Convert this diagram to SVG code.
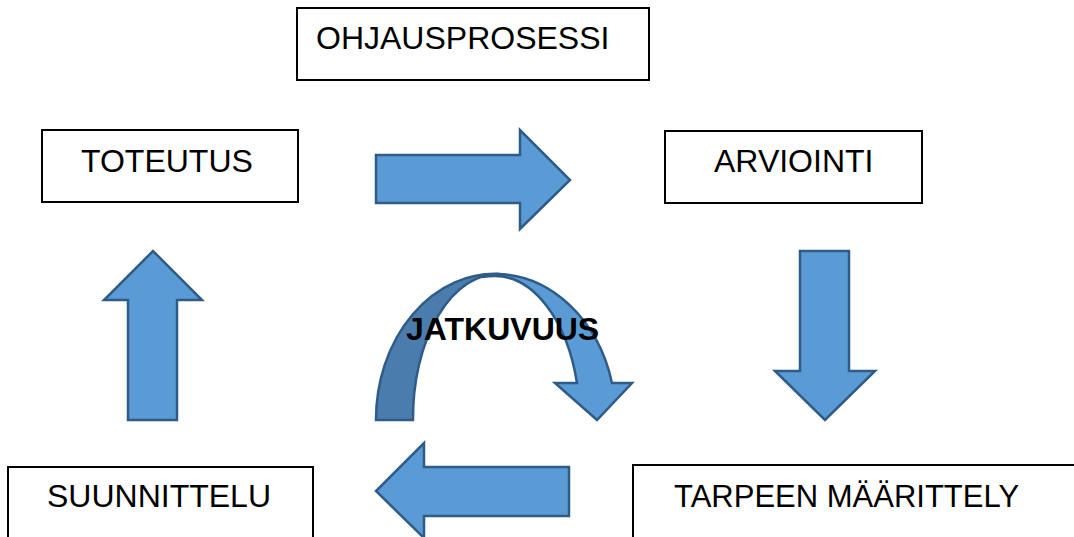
<svg xmlns="http://www.w3.org/2000/svg" width="1074" height="537" viewBox="0 0 1074 537">
<style>
.box{fill:#fff;stroke:#000;stroke-width:2}
.lbl{font-family:"Liberation Sans",Arial,sans-serif;font-size:32px;fill:#000}
.arr{fill:#5B9BD5;stroke:#2E5B88;stroke-width:2.5;stroke-linejoin:miter}
.dark{fill:#4A7DAE;stroke:#2E5B88;stroke-width:2.5}
.bold{font-family:"Liberation Sans",Arial,sans-serif;font-size:32px;font-weight:bold;fill:#000}
</style>
<rect width="1074" height="537" fill="#fff"/>
<g id="node-ohjausprosessi">
<rect class="box" x="297" y="8" width="352" height="72"/>
<text class="lbl" x="316" y="49">OHJAUSPROSESSI</text>
</g>
<g id="node-toteutus">
<rect class="box" x="42" y="130" width="256" height="72"/>
<text class="lbl" x="81" y="172">TOTEUTUS</text>
</g>
<g id="node-arviointi">
<rect class="box" x="665" y="131" width="257" height="72"/>
<text class="lbl" x="714" y="172">ARVIOINTI</text>
</g>
<g id="node-suunnittelu">
<rect class="box" x="8" y="467" width="305" height="90"/>
<text class="lbl" x="47" y="507">SUUNNITTELU</text>
</g>
<g id="node-tarpeen">
<rect class="box" x="633" y="465" width="460" height="90"/>
<text class="lbl" x="674" y="507" style="font-size:31px">TARPEEN MÄÄRITTELY</text>
</g>
<g id="connectors">
<path class="arr" d="M376,155 H520 V130 L570,180 L520,229 V203 H376 Z"/>
<path class="arr" d="M800,251 H849 V371 H875 L825,420 L775,371 H800 Z"/>
<path class="arr" d="M569,467 H424 V443 L376,491 L424,538 V516 H569 Z"/>
<path class="arr" d="M128,420 V300 H104 L153,251 L202,300 H177 V420 Z"/>
<g id="jatkuvuus">
<path class="dark" d="M376,420 A119,146 0 0 1 500,274 A85,144 0 0 0 413,420 Z"/>
<path class="arr" d="M482,277 Q490,274 497,274 A121,146 0 0 1 612,383 H632 L597,420 L555,383 H577 A85,144 0 0 0 495,276 Q489,276 482,277 Z"/>
</g>
</g>
<text class="bold" x="406" y="340">JATKUVUUS</text>
</svg>
